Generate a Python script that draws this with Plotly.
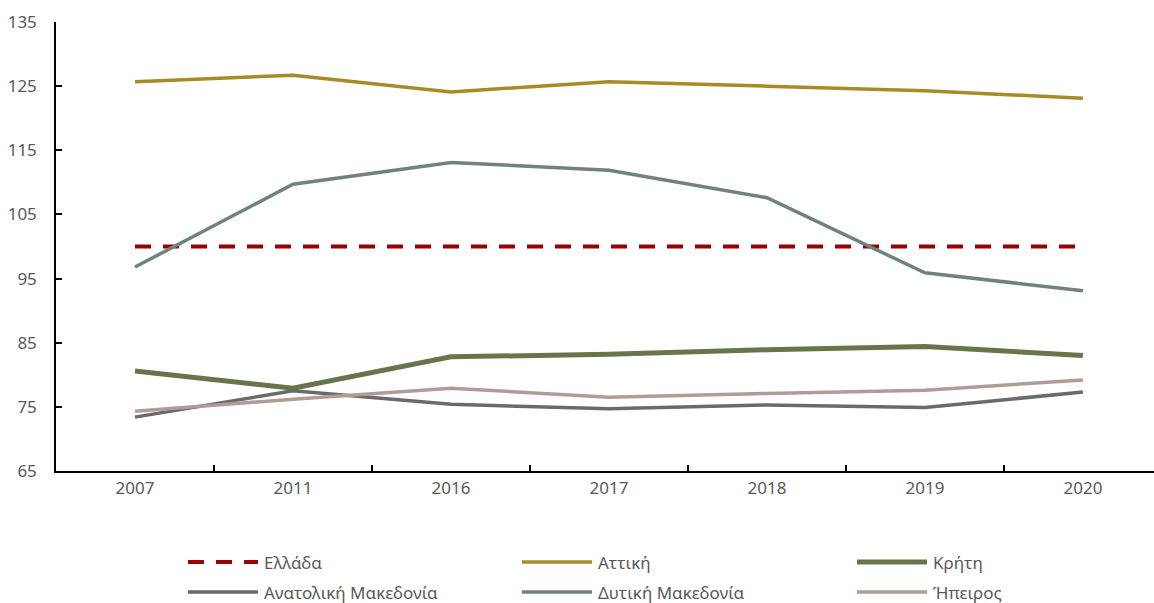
import plotly.graph_objects as go

years = ["2007", "2011", "2016", "2017", "2018", "2019", "2020"]

ellada = [100, 100, 100, 100, 100, 100, 100]
attiki = [125.7, 126.7, 124.1, 125.7, 125.0, 124.3, 123.1]
kriti = [80.6, 77.9, 82.8, 83.2, 83.9, 84.4, 83.0]
anat_makedonia = [73.4, 77.5, 75.4, 74.7, 75.3, 74.9, 77.3]
dyt_makedonia = [96.8, 109.7, 113.1, 111.9, 107.6, 95.9, 93.1]
ipeiros = [74.3, 76.2, 77.9, 76.5, 77.1, 77.6, 79.2]

y_ticks = [65, 75, 85, 95, 105, 115, 125, 135]

series = [
    ("Ελλάδα", ellada, "#990000", 4, "16px,12px"),
    ("Αττική", attiki, "#A88A28", 3.5, "solid"),
    ("Κρήτη", kriti, "#68744A", 5, "solid"),
    ("Ανατολική Μακεδονία", anat_makedonia, "#6A6A6A", 3.5, "solid"),
    ("Δυτική Μακεδονία", dyt_makedonia, "#6F8379", 3.5, "solid"),
    ("Ήπειρος", ipeiros, "#B09C97", 3.5, "solid"),
]

W, H = 1154, 603
M_L, M_R, M_T, M_B = 56, 0, 22, 132
plot_w = W - M_L - M_R
plot_h = H - M_T - M_B

font_family = "Noto Sans, Liberation Sans, sans-serif"
text_color = "#595959"

fig = go.Figure()
for name, vals, color, width, dash in series:
    fig.add_trace(go.Scatter(
        x=years, y=vals, name=name, mode="lines", showlegend=False,
        line=dict(color=color, width=width, dash=dash),
    ))

# Legend: three columns, two rows, below the plot
col_x = [188, 522, 857]
row_y = [562, 592]
sample_len = 70


def px_x(p):
    return (p - M_L) / plot_w


def px_y(p):
    return (H - M_B - p) / plot_h


for i, (name, vals, color, width, dash) in enumerate(series):
    cx = col_x[i % 3]
    ry = row_y[i // 3]
    fig.add_shape(
        type="line", xref="paper", yref="paper",
        x0=px_x(cx), x1=px_x(cx + sample_len), y0=px_y(ry), y1=px_y(ry),
        line=dict(color=color, width=width, dash=dash),
    )
    fig.add_annotation(
        xref="paper", yref="paper", x=px_x(cx + sample_len + 5), y=px_y(ry),
        xanchor="left", yanchor="middle", text=name, showarrow=False,
        borderpad=0,
        font=dict(family=font_family, size=17, color=text_color),
    )

fig.update_layout(
    width=W, height=H,
    margin=dict(l=M_L, r=M_R, t=M_T, b=M_B, autoexpand=False),
    paper_bgcolor="white", plot_bgcolor="white",
    font=dict(family=font_family, size=17, color=text_color),
    showlegend=False,
    xaxis=dict(
        type="category", range=[-0.5, 6.45],
        showline=True, linecolor="black", linewidth=1.5,
        ticks="inside", tickson="boundaries", ticklen=6, tickcolor="black", tickwidth=1.5,
        showgrid=False, zeroline=False,
        tickfont=dict(size=17, color=text_color),
        ticklabelstandoff=1,
    ),
    yaxis=dict(
        range=[65, 135], tickvals=y_ticks,
        showline=True, linecolor="black", linewidth=1.5,
        ticks="inside", ticklen=6, tickcolor="black", tickwidth=1.5,
        showgrid=False, zeroline=False,
        tickfont=dict(size=17, color=text_color),
        ticklabelstandoff=14,
    ),
)

fig.write_html("out.html")
